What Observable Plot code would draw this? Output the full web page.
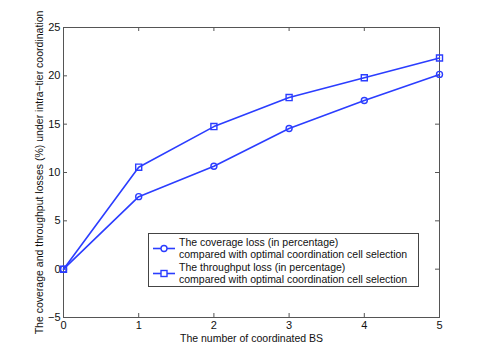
<!DOCTYPE html>
<html><head><meta charset="utf-8">
<script src="https://cdn.jsdelivr.net/npm/d3@7"></script>
<script src="https://cdn.jsdelivr.net/npm/@observablehq/plot@0.6"></script>
<style>
body{margin:0;background:#fff;}
#wrap{position:relative;width:485px;height:356px;font-family:"Liberation Sans",Arial,sans-serif;}
#legend{position:absolute;left:148px;top:233px;width:271px;height:54px;border:1px solid #444;background:#fff;box-sizing:border-box;font-size:10.5px;line-height:12px;color:#111;}
#legend svg{position:absolute;left:0;top:0;}
#legend .txt{position:absolute;left:30px;white-space:pre;}
</style>
</head><body><div id="wrap"></div>
<script>
const xs = [0, 1, 2, 3, 4, 5];
const coverageLoss = [0, 7.5, 10.65, 14.55, 17.45, 20.15];
const throughputLoss = [0, 10.55, 14.75, 17.75, 19.8, 21.85];
const xTicks = [0, 1, 2, 3, 4, 5];
const yTicks = [-5, 0, 5, 10, 15, 20, 25];
const seriesNames = [
  "The coverage loss (in percentage)\ncompared with optimal coordination cell selection",
  "The throughput loss (in percentage)\ncompared with optimal coordination cell selection"
];
const xLabel = "The number of coordinated BS";
const yLabel = "The coverage and throughput losses (%) under intra\u2212tier coordination";

const W = 485, H = 356, mL = 63, mR = 46, mT = 27, mB = 39;
const innerH = H - mT - mB, innerW = W - mL - mR;
const blue = "#2b3dff";
const axisColor = "#555";
const font = '"Liberation Sans", Arial, sans-serif';

const chart = Plot.plot({
  width: W, height: H,
  marginLeft: mL, marginRight: mR, marginTop: mT, marginBottom: mB,
  style: {fontFamily: font, fontSize: "10.5px", color: "#111", background: "white"},
  x: {domain: [0, 5]},
  y: {domain: [-5, 25]},
  marks: [
    Plot.frame({stroke: axisColor}),
    Plot.tickX(xTicks, {x: d => d, insetTop: innerH - 4, stroke: axisColor}),
    Plot.tickX(xTicks, {x: d => d, insetBottom: innerH - 4, stroke: axisColor}),
    Plot.tickY(yTicks, {y: d => d, insetRight: innerW - 4, stroke: axisColor}),
    Plot.tickY(yTicks, {y: d => d, insetLeft: innerW - 4, stroke: axisColor}),
    Plot.axisX(xTicks, {tickSize: 0, tickPadding: 4, fontSize: 11, label: xLabel, labelAnchor: "center", labelArrow: "none", labelOffset: 24}),
    Plot.axisY(yTicks, {tickSize: 0, tickPadding: 3, fontSize: 11, label: yLabel, labelAnchor: "center", labelArrow: "none", labelOffset: 28}),
    Plot.line(xs, {x: d => d, y: (d, i) => coverageLoss[i], stroke: blue, strokeWidth: 1.6}),
    Plot.line(xs, {x: d => d, y: (d, i) => throughputLoss[i], stroke: blue, strokeWidth: 1.6}),
    Plot.dot(xs, {x: d => d, y: (d, i) => coverageLoss[i], r: 3, stroke: blue, strokeWidth: 1.4, fill: "none"}),
    Plot.dot(xs, {x: d => d, y: (d, i) => throughputLoss[i], r: 3.4, symbol: "square", stroke: blue, strokeWidth: 1.4, fill: "none"})
  ]
});
// axis labels slightly smaller than tick labels
chart.querySelectorAll('[aria-label="x-axis label"] text, [aria-label="y-axis label"] text').forEach(t => t.setAttribute("font-size", "10.5"));
const wrap = document.getElementById("wrap");
wrap.appendChild(chart);

// legend
const lg = document.createElement("div");
lg.id = "legend";
const symbols = ["circle", "square"];
const rowTops = [2, 27];
seriesNames.forEach((name, i) => {
  const svg = d3.create("svg").attr("width", 30).attr("height", 24)
    .style("top", rowTops[i] + "px");
  svg.append("line").attr("x1", 4).attr("x2", 26).attr("y1", 12.5).attr("y2", 12.5)
    .attr("stroke", blue).attr("stroke-width", 1.6);
  if (symbols[i] === "circle") {
    svg.append("circle").attr("cx", 15).attr("cy", 12.5).attr("r", 3)
      .attr("fill", "white").attr("stroke", blue).attr("stroke-width", 1.4);
  } else {
    svg.append("rect").attr("x", 12).attr("y", 9.5).attr("width", 6).attr("height", 6)
      .attr("fill", "white").attr("stroke", blue).attr("stroke-width", 1.4);
  }
  lg.appendChild(svg.node());
  const t = document.createElement("div");
  t.className = "txt";
  t.style.top = rowTops[i] + "px";
  t.textContent = name;
  lg.appendChild(t);
});
wrap.appendChild(lg);
</script>
</body></html>
